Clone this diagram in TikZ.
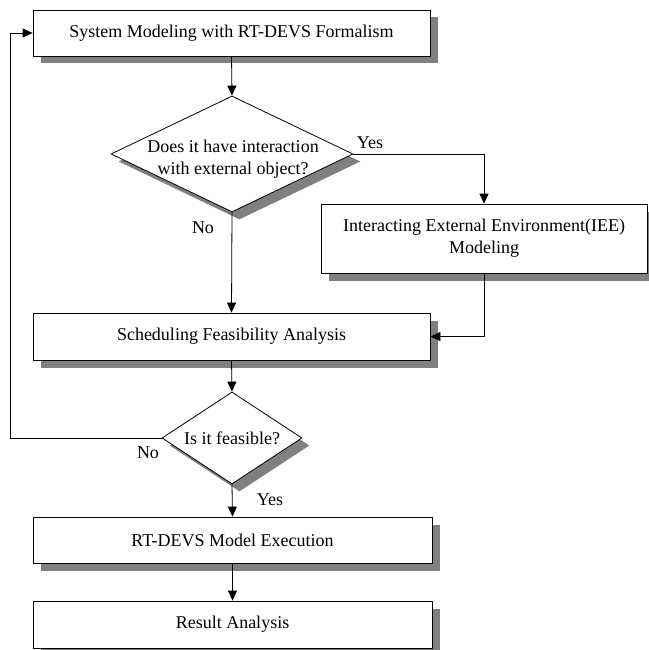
\documentclass[tikz,border=0pt]{standalone}
\usepackage{fontspec}
\setmainfont{Liberation Serif}
\usetikzlibrary{shapes.geometric,shadows,arrows.meta}
\begin{document}
\begin{tikzpicture}[x=1pt,y=-1pt,
  txt/.style={font=\fontsize{18}{22}\selectfont},
  shad/.style={drop shadow={shadow xshift=7.5pt,shadow yshift=-7.5pt,fill=black!50,opacity=1}},
  pbox/.style={txt,draw,line width=0.8pt,fill=white,shad,inner sep=0pt,align=center},
  dia/.style={diamond,draw,line width=0.8pt,fill=white,shad,inner sep=0pt},
  arr/.style={line width=0.8pt,-{Triangle[length=10pt,width=9pt]}},
  ln/.style={line width=0.8pt},
  lbl/.style={txt,inner sep=0pt}]
\useasboundingbox (0,0) rectangle (648,650);
% boxes
\node[pbox,minimum width=397pt,minimum height=46pt] (b1) at (231.5,33) {System Modeling with RT-DEVS Formalism};
\node[dia,minimum width=242pt,minimum height=116pt] (d1) at (232,154) {};
\node[txt,align=center,inner sep=0pt] (d1t) at (233,159) {Does it have interaction\\with external object?};
\node[pbox,minimum width=326pt,minimum height=69pt] (iee) at (484,238.5) {Interacting External Environment(IEE)\\Modeling};
\node[pbox,minimum width=397pt,minimum height=47pt] (sfa) at (231.5,336.5) {Scheduling Feasibility Analysis};
\node[dia,minimum width=140pt,minimum height=92pt] (d2) at (232,438) {};
\node[txt,inner sep=0pt] (d2t) at (232,438) {Is it feasible?};
\node[pbox,minimum width=399pt,minimum height=46pt] (rt) at (232.5,540) {RT-DEVS Model Execution};
\node[pbox,minimum width=399pt,minimum height=47pt] (res) at (232.5,624.5) {Result Analysis};
% labels
\node[lbl] (yes1) at (370,143) {Yes};
\node[lbl] (no1) at (203,228) {No};
\node[lbl] (no2) at (148,453) {No};
\node[lbl] (yes2) at (270,500) {Yes};
% connectors
\coordinate (loop) at (10,438);
\draw[arr] (b1.south) -- (d1.north);
\draw[arr] (d1.east) -| (iee.north);
\draw[arr] (d1.south) -- (sfa.north);
\draw[arr] (iee.south) |- (sfa.east);
\draw[arr] (sfa.south) -- (d2.north);
\draw[arr] (d2.west) -- (loop) |- (b1.west);
\draw[arr] (d2.south) -- (rt.north);
\draw[arr] (rt.south) -- (res.north);
\end{tikzpicture}
\end{document}
